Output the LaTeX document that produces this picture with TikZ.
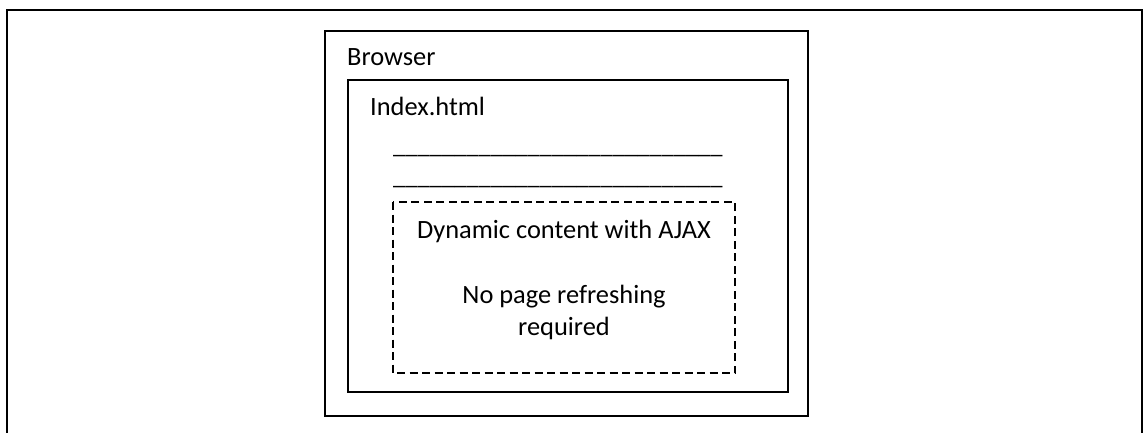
\documentclass[tikz,border=0pt]{standalone}
\usepackage{fontspec}
\setmainfont{Carlito}
\begin{document}
\begin{tikzpicture}[x=1pt,y=-1pt,
  frame/.style={line width=2.4pt},
  box/.style={draw,line width=1.6pt},
  dynbox/.style={draw,line width=1.3pt,dash pattern=on 8pt off 4.5pt},
  label/.style={font=\fontsize{26.4}{32}\selectfont,inner sep=0pt,anchor=base west},
  clabel/.style={font=\fontsize{26.4}{32}\selectfont,inner sep=0pt,anchor=base},
  rulerline/.style={font=\fontsize{24.5}{32}\selectfont,inner sep=0pt,anchor=base west}]
  \useasboundingbox (0,0) rectangle (1143,432);
  % page frame, open at the bottom
  \draw[frame] (7,433) -- (7,10) -- (1142,10) -- (1142,433);
  % browser window and page
  \draw[box] (325,31) rectangle (808,416);
  \node[label] (browser) at (347,65) {Browser};
  \draw[box] (348,80) rectangle (788,392);
  \node[label] (index) at (370,115) {Index.html};
  % placeholder lines of static content
  \node[rulerline] (line1) at (393,153) {\_\_\_\_\_\_\_\_\_\_\_\_\_\_\_\_\_\_\_\_\_\_\_\_\_\_\_};
  \node[rulerline] (line2) at (393,184) {\_\_\_\_\_\_\_\_\_\_\_\_\_\_\_\_\_\_\_\_\_\_\_\_\_\_\_};
  % region updated asynchronously
  \draw[dynbox] (393,202) rectangle (735,373);
  \node[clabel] (dyn) at (564,238) {Dynamic content with AJAX};
  \node[clabel] (norefresh) at (564,303) {No page refreshing};
  \node[clabel] (required) at (564,335) {required};
\end{tikzpicture}
\end{document}
